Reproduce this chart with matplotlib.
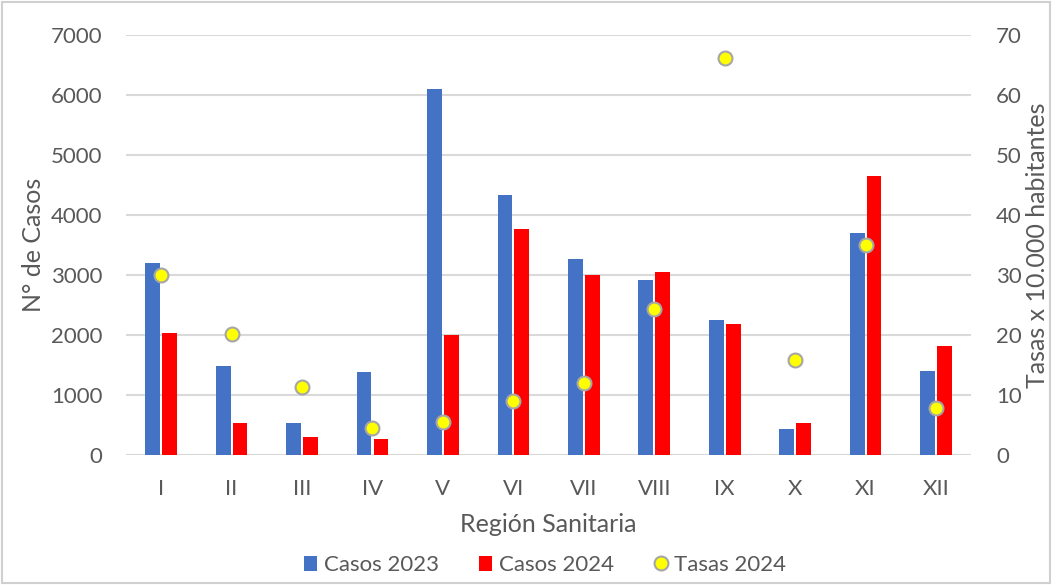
import matplotlib

matplotlib.use("Agg")
import matplotlib.pyplot as plt
import numpy as np
from matplotlib.patches import Rectangle

plt.rcParams["font.family"] = ["Lato", "DejaVu Sans"]

regiones = ["I", "II", "III", "IV", "V", "VI", "VII", "VIII", "IX", "X", "XI", "XII"]
casos_2023 = [3210, 1480, 540, 1380, 6100, 4330, 3270, 2920, 2260, 430, 3700, 1410]
casos_2024 = [2030, 540, 300, 270, 2000, 3770, 3010, 3050, 2180, 540, 4650, 1820]
tasas_2024 = [30.1, 20.2, 11.4, 4.5, 5.6, 9.0, 12.1, 24.4, 66.2, 15.9, 35.0, 7.9]

GREY = "#595959"
BLUE = "#4472c4"
RED = "#ff0000"

fig = plt.figure(figsize=(10.58, 5.85), dpi=100)
ax = fig.add_axes([0.119, 0.222, 0.799, 0.718])
ax2 = ax.twinx()

x = np.arange(len(regiones))
w = 0.21
gap = 0.015
ax.bar(x - w / 2 - gap, casos_2023, width=w, color=BLUE, label="Casos 2023", zorder=3)
ax.bar(x + w / 2 + gap, casos_2024, width=w, color=RED, label="Casos 2024", zorder=3)
ax2.plot(x, tasas_2024, linestyle="none", marker="o", markersize=10,
         markerfacecolor="#ffff00", markeredgecolor="#a6a6a6", markeredgewidth=1.5,
         label="Tasas 2024", zorder=4)

ax.set_xlim(-0.5, len(regiones) - 0.5)
ax.set_ylim(0, 7000)
ax2.set_ylim(0, 70)
ax.set_yticks(np.arange(0, 7001, 1000))
ax2.set_yticks(np.arange(0, 71, 10))
ax.set_xticks(x)
ax.set_xticklabels(regiones)

ax.grid(axis="y", color="#d9d9d9", linewidth=1.5, zorder=0)
ax.set_axisbelow(True)
for a in (ax, ax2):
    for s in a.spines.values():
        s.set_visible(False)
    a.tick_params(length=0, labelsize=16, labelcolor=GREY)
ax.tick_params(axis="y", pad=17)
ax2.tick_params(axis="y", pad=18)
ax.tick_params(axis="x", pad=17)

ax.set_ylabel("N° de Casos", fontsize=18, color=GREY, labelpad=4)
ax2.set_ylabel("Tasas x 10.000 habitantes", fontsize=18, color=GREY, labelpad=3)
ax.set_xlabel("Región Sanitaria", fontsize=18, color=GREY, labelpad=10)

h1, l1 = ax.get_legend_handles_labels()
h2, l2 = ax2.get_legend_handles_labels()
fig.legend(h1 + h2, l1 + l2, loc="center", bbox_to_anchor=(0.515, 0.034), ncol=3,
           frameon=False, fontsize=16, labelcolor=GREY, handlelength=0.6,
           handletextpad=0.3, columnspacing=1.8)

fig.patches.append(Rectangle((0.002, 0.003), 0.99, 0.994, transform=fig.transFigure,
                             fill=False, edgecolor="#d0d0d0", linewidth=1.5))

fig.savefig("out.png")
